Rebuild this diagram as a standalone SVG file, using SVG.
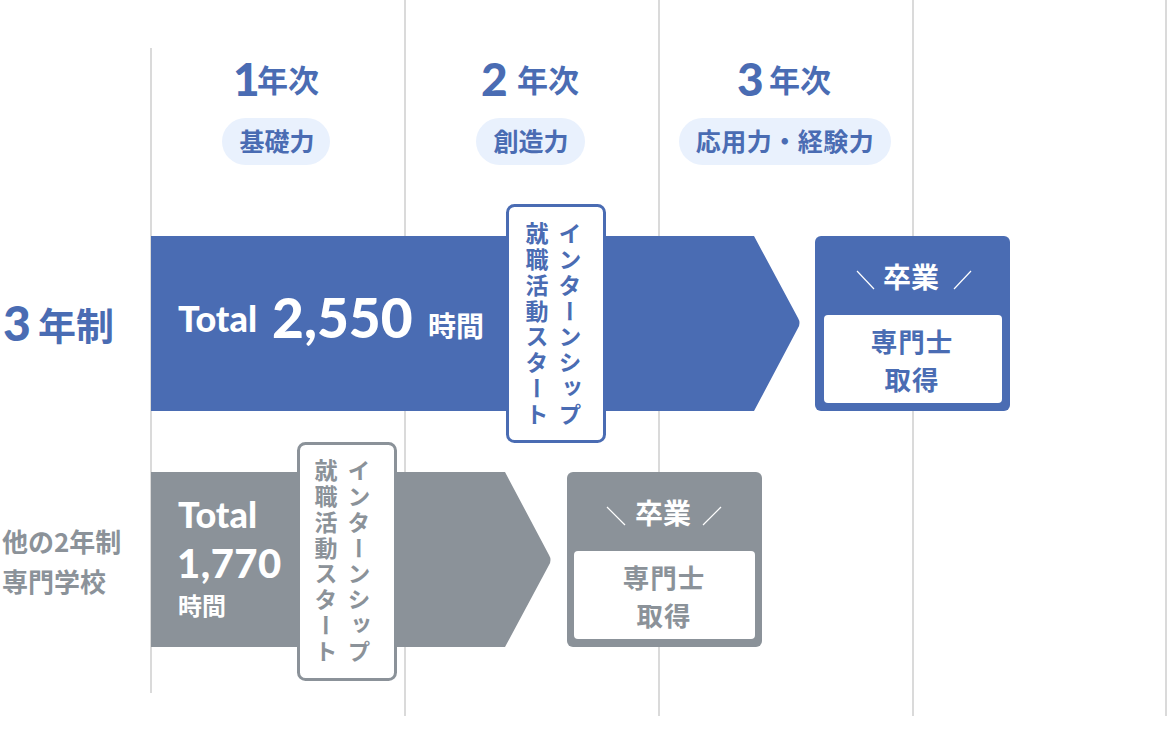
<svg xmlns="http://www.w3.org/2000/svg" width="1168" height="743" viewBox="0 0 1168 743">
<style>
.jp{font-family:"Noto Sans CJK JP","Noto Sans",sans-serif;font-weight:700}
.num{font-family:Lato,"Noto Sans",sans-serif;font-weight:900}
.blue{fill:#4a6cb3}
.gray{fill:#8b9299}
.white{fill:#ffffff}
.grid{stroke:#dadada;stroke-width:2;fill:none}
.pill{fill:#e9f1fd}
.vt{writing-mode:vertical-rl;font-size:23px;letter-spacing:2.8px}
.mid{text-anchor:middle}
.cert{font-size:26.5px;letter-spacing:1px}
</style>
<rect width="1168" height="743" fill="#ffffff"/>
<g id="grid">
<line class="grid" x1="151" y1="48" x2="151" y2="693"/>
<line class="grid" x1="405" y1="0" x2="405" y2="716"/>
<line class="grid" x1="659" y1="0" x2="659" y2="716"/>
<line class="grid" x1="913" y1="0" x2="913" y2="716"/>
<line class="grid" x1="1166" y1="0" x2="1166" y2="716"/>
</g>
<g id="year1">
<text class="num blue" x="233" y="96" font-size="46">1</text>
<text class="jp blue" x="257" y="92" font-size="31">年次</text>
<rect class="pill" x="222" y="118" width="108" height="47" rx="23.5"/>
<text class="jp blue mid" x="277" y="151" font-size="25">基礎力</text>
</g>
<g id="year2">
<text class="num blue" x="481" y="96" font-size="46">2</text>
<text class="jp blue" x="517" y="92" font-size="31">年次</text>
<rect class="pill" x="476" y="118" width="109" height="47" rx="23.5"/>
<text class="jp blue mid" x="531" y="151" font-size="25">創造力</text>
</g>
<g id="year3">
<text class="num blue" x="737" y="96" font-size="46">3</text>
<text class="jp blue" x="769" y="92" font-size="31">年次</text>
<rect class="pill" x="679" y="118" width="212" height="47" rx="23.5"/>
<text class="jp blue mid" x="785" y="151" font-size="25" letter-spacing="0.5">応用力・経験力</text>
</g>
<g id="label3">
<text class="num blue" x="3" y="341" font-size="48">3</text>
<text class="jp blue" x="38" y="340" font-size="38">年制</text>
</g>
<g id="label2">
<text class="jp gray" x="2" y="552" font-size="26" font-weight="500">他の2年制</text>
<text class="jp gray" x="2" y="592" font-size="26" font-weight="500">専門学校</text>
</g>
<g id="bar3">
<path class="blue" d="M151 236 H754 L798 318 Q801 323 798 328 L754 411 H151 Z"/>
<text class="num white" x="178" y="332" font-size="36">Total</text>
<text class="num white" x="272" y="338" font-size="55">2,550</text>
<text class="jp white" x="428" y="337" font-size="28">時間</text>
</g>
<g id="intern3">
<rect x="507.5" y="205.5" width="97" height="236" rx="7" fill="#ffffff" stroke="#4a6cb3" stroke-width="3"/>
<text class="jp blue vt" x="570" y="222">インターンシップ</text>
<text class="jp blue vt" x="537" y="222">就職活動スタート</text>
</g>
<g id="grad3">
<rect class="blue" x="815" y="236" width="195" height="175" rx="6"/>
<rect class="white" x="824" y="315" width="178" height="88" rx="4"/>
<text class="jp white mid" x="911" y="288" font-size="28">卒業</text>
<line x1="857" y1="271" x2="874" y2="289" stroke="#ffffff" stroke-width="1.2"/>
<line x1="954" y1="289" x2="971" y2="271" stroke="#ffffff" stroke-width="1.2"/>
<text class="jp blue mid cert" x="912" y="352">専門士</text>
<text class="jp blue mid cert" x="912" y="390">取得</text>
</g>
<g id="bar2">
<path class="gray" d="M151 472 H505 L549 555 Q552 560 549 565 L505 647 H151 Z"/>
<text class="num white" x="178" y="528" font-size="36">Total</text>
<text class="num white" x="177" y="578" font-size="40" letter-spacing="0.5">1,770</text>
<text class="jp white" x="178" y="615" font-size="24">時間</text>
</g>
<g id="intern2">
<rect x="298.5" y="443.5" width="97" height="236" rx="7" fill="#ffffff" stroke="#8b9299" stroke-width="3"/>
<text class="jp gray vt" x="359" y="459">インターンシップ</text>
<text class="jp gray vt" x="326" y="459">就職活動スタート</text>
</g>
<g id="grad2">
<rect class="gray" x="567" y="472" width="195" height="175" rx="6"/>
<rect class="white" x="574" y="551" width="181" height="88" rx="4"/>
<text class="jp white mid" x="663" y="524" font-size="28">卒業</text>
<line x1="607" y1="507" x2="625" y2="525" stroke="#ffffff" stroke-width="1.2"/>
<line x1="703" y1="525" x2="721" y2="507" stroke="#ffffff" stroke-width="1.2"/>
<text class="jp gray mid cert" x="664" y="588">専門士</text>
<text class="jp gray mid cert" x="664" y="626">取得</text>
</g>
</svg>
